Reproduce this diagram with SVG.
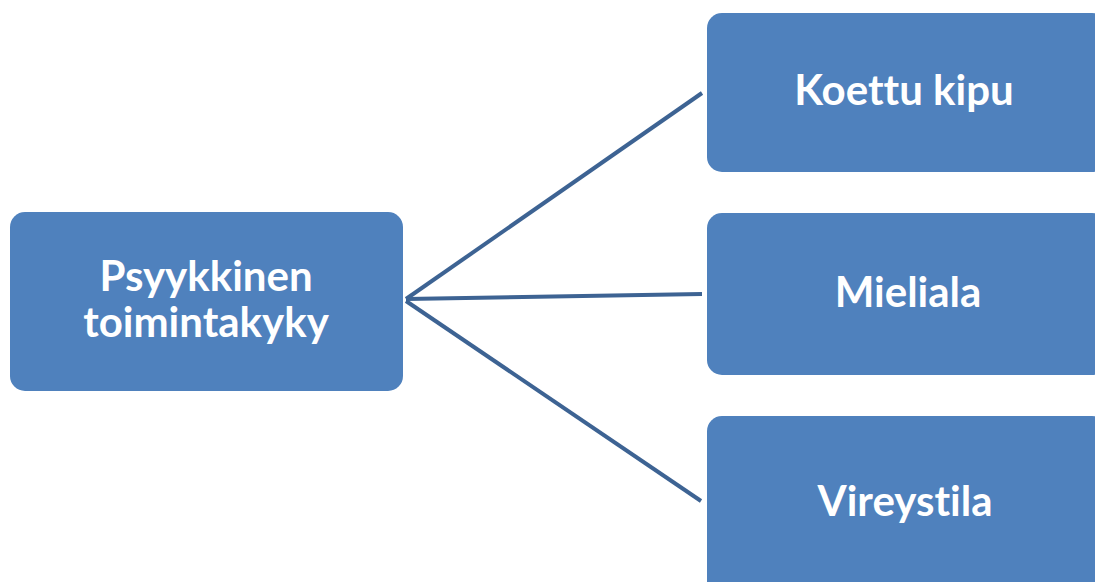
<svg xmlns="http://www.w3.org/2000/svg" width="1095" height="582" viewBox="0 0 1095 582">
<style>
.box{fill:#4f81bd;}
.lbl{font-family:Lato,"Open Sans","Liberation Sans",sans-serif;font-weight:bold;font-size:42px;fill:#ffffff;text-anchor:middle;font-variant-ligatures:none;}
.conn{stroke:#3d6393;stroke-width:4;fill:none;}
</style>
<rect width="1095" height="582" fill="#ffffff"/>
<g id="connectors">
<line class="conn" x1="406" y1="299" x2="702" y2="93"/>
<line class="conn" x1="406" y1="299" x2="702" y2="294"/>
<line class="conn" x1="406" y1="301" x2="701" y2="501"/>
</g>
<g id="node-psyykkinen">
<rect class="box" x="10" y="212" width="393" height="179" rx="15"/>
<text class="lbl" x="206" y="291">Psyykkinen</text>
<text class="lbl" x="206" y="337">toimintakyky</text>
</g>
<g id="node-koettu">
<rect class="box" x="707" y="13" width="400" height="159" rx="15"/>
<text class="lbl" x="904" y="105">Koettu kipu</text>
</g>
<g id="node-mieliala">
<rect class="box" x="707" y="213" width="400" height="162" rx="15"/>
<text class="lbl" x="908" y="307">Mieliala</text>
</g>
<g id="node-vireystila">
<rect class="box" x="707" y="416" width="400" height="190" rx="15"/>
<text class="lbl" x="905" y="516">Vireystila</text>
</g>
</svg>
